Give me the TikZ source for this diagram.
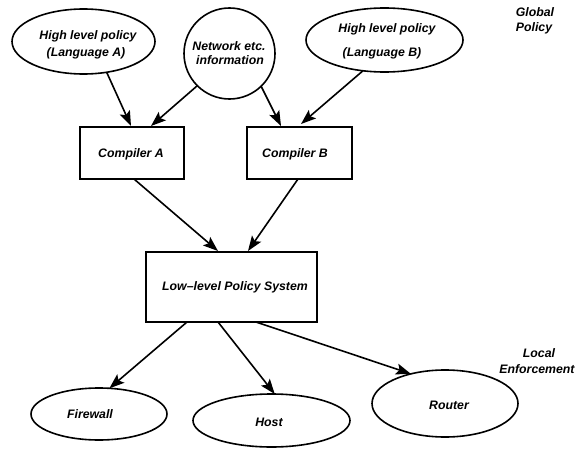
\documentclass[tikz,border=0pt]{standalone}
\usepackage{fontspec}
\setmainfont{Liberation Sans}
\usetikzlibrary{shapes.geometric,arrows.meta}
\tikzset{
  x=1pt,y=-1pt,
  every node/.style={inner sep=0pt,outer sep=0pt},
  oval/.style={draw,ellipse,line width=1.6pt},
  boxnode/.style={draw,rectangle,line width=1.6pt},
  lbl/.style={font=\fontsize{12.3}{14}\selectfont\bfseries\itshape},
  link/.style={line width=1.6pt,-{Stealth[length=15pt,width=11pt,inset=3pt]}}
}
\begin{document}
\begin{tikzpicture}
\useasboundingbox (0,0) rectangle (578,452);
\node[oval,minimum width=143pt,minimum height=65pt] (ea) at (83.5,41.5) {};
\node[oval,minimum width=91pt,minimum height=91pt] (net) at (229.5,53.5) {};
\node[oval,minimum width=157pt,minimum height=64pt] (eb) at (384.5,40) {};
\node[boxnode,minimum width=104.5pt,minimum height=52pt] (ca) at (132,153) {};
\node[boxnode,minimum width=105pt,minimum height=52pt] (cb) at (299.5,153) {};
\node[boxnode,minimum width=171pt,minimum height=70pt] (low) at (231.5,287) {};
\node[oval,minimum width=136pt,minimum height=52pt] (fw) at (99,414) {};
\node[oval,minimum width=157pt,minimum height=53pt] (host) at (271.5,420.5) {};
\node[oval,minimum width=146pt,minimum height=67pt] (rt) at (445,403.5) {};
\node[lbl] (t1) at (88,36) {High level policy};
\node[lbl] (t2) at (86,53) {(Language A)};
\node[lbl] (t3) at (229,46) {Network etc.};
\node[lbl] (t4) at (230,60) {information};
\node[lbl] (t5) at (387,29) {High level policy};
\node[lbl] (t6) at (382,53) {(Language B)};
\node[lbl] (t7) at (131,154) {Compiler A};
\node[lbl] (t8) at (295,154) {Compiler B};
\node[lbl] (t9) at (235,287) {Low--level Policy System};
\node[lbl] (t10) at (90,414) {Firewall};
\node[lbl] (t11) at (269,422) {Host};
\node[lbl] (t12) at (449,405) {Router};
\node[lbl] (t13) at (535,12) {Global};
\node[lbl] (t14) at (534,28) {Policy};
\node[lbl] (t15) at (539,353) {Local};
\node[lbl] (t16) at (537,369) {Enforcement};
\draw[link] (ea.-53) -- ([xshift=-1pt,yshift=1pt]ca.north);
\draw[link] (net.225) -- ([xshift=19pt,yshift=1pt]ca.north);
\draw[link] (net.-46) -- ([xshift=-18.5pt,yshift=1pt]cb.north);
\draw[link] (eb.-125) -- ([xshift=1.5pt,yshift=3pt]cb.north);
\draw[link] ([xshift=2pt]ca.south) -- ([xshift=-13.5pt,yshift=1pt]low.north);
\draw[link] ([xshift=-1.5pt]cb.south) -- ([xshift=16.5pt,yshift=1pt]low.north);
\draw[link] ([xshift=-44.5pt]low.south) -- (fw.68);
\draw[link] ([xshift=-13.5pt]low.south) -- (host.83);
\draw[link] ([xshift=24.5pt]low.south) -- (rt.139);
\end{tikzpicture}
\end{document}
